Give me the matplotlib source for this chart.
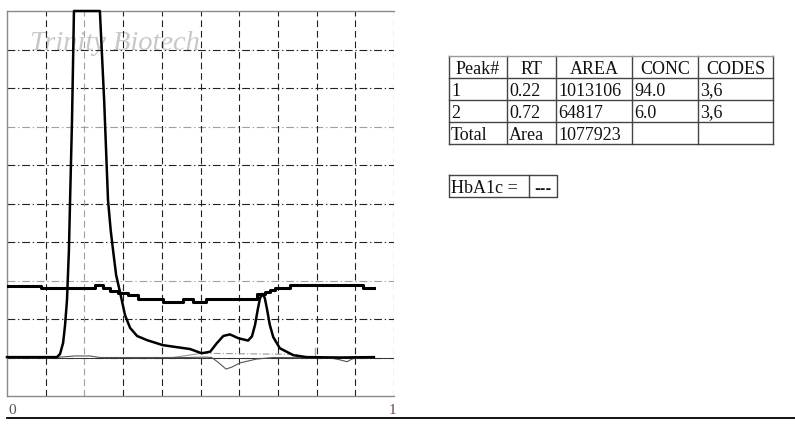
import matplotlib.pyplot as plt
from matplotlib.lines import Line2D

# chromatogram signal (x = fraction of run, y = grid units)
sinal_x = [0, 0.111, 0.129, 0.137, 0.145, 0.150, 0.155, 0.160, 0.163, 0.168, 0.173,
           0.240, 0.251, 0.261, 0.268, 0.274, 0.282, 0.292, 0.305, 0.318, 0.336,
           0.362, 0.403, 0.473, 0.503, 0.525, 0.542, 0.559, 0.576, 0.598, 0.623,
           0.633, 0.641, 0.648, 0.654, 0.660, 0.666, 0.672, 0.679, 0.688, 0.705,
           0.740, 0.774, 0.860, 0.948]
sinal_y = [1.01, 1.01, 1.01, 1.09, 1.38, 1.84, 2.49, 3.79, 5.09, 7.17, 10.0,
           10.0, 7.69, 5.09, 4.3, 3.79, 3.14, 2.70, 2.10, 1.77, 1.56,
           1.45, 1.32, 1.22, 1.11, 1.15, 1.37, 1.56, 1.60, 1.50, 1.44,
           1.55, 1.85, 2.25, 2.55, 2.65, 2.55, 2.25, 1.85, 1.53, 1.24,
           1.06, 1.01, 1.0, 1.01]

# gradient / step trace
degrau_x = [0, 0.088, 0.227, 0.248, 0.266, 0.287, 0.313, 0.338, 0.403, 0.455,
            0.481, 0.514, 0.646, 0.667, 0.680, 0.693, 0.731, 0.920, 0.948]
degrau_y = [2.86, 2.81, 2.88, 2.81, 2.73, 2.68, 2.62, 2.52, 2.44, 2.52,
            2.44, 2.52, 2.65, 2.70, 2.75, 2.81, 2.88, 2.81, 2.81]

# thin derivative-like trace
fino_x = [0, 0.124, 0.176, 0.214, 0.240, 0.470, 0.512, 0.529, 0.545, 0.566, 0.581,
          0.602, 0.645, 0.687, 0.835, 0.860, 0.879, 0.891, 0.912, 0.948]
fino_y = [1.0, 1.0, 1.04, 1.04, 1.0, 1.0, 1.01, 1.0, 0.88, 0.70, 0.75,
          0.86, 0.96, 1.0, 0.99, 0.94, 0.89, 0.96, 1.0, 1.0]

# integration baseline of peak 2
base_x = [0.429, 0.503, 0.757]
base_y = [1.0, 1.11, 1.08]

marcador_x = 0.796
marcador_y = [1.06, 1.25]

cabecalho = ["Peak#", "RT", "AREA", "CONC", "CODES"]
linhas = [["1", "0.22", "1013106", "94.0", "3,6"],
          ["2", "0.72", "64817", "6.0", "3,6"],
          ["Total", "Area", "1077923", "", ""]]
hba1c = ["HbA1c =", "---"]

serif = 'Liberation Serif'

fig = plt.figure(figsize=(7.95, 4.29), dpi=100)
ax = fig.add_axes([7 / 795, 1 - 396 / 429, 387 / 795, 385 / 429])
ax.set_xlim(0, 1)
ax.set_ylim(0, 10)
ax.set_xticks([])
ax.set_yticks([])
for lado in ['top', 'left', 'bottom']:
    ax.spines[lado].set_color('#8a8a8a')
    ax.spines[lado].set_linewidth(1)
ax.spines['right'].set_visible(False)

# grid
for i in range(1, 10):
    cor = '#a0a0a0' if i in (3, 7) else '#222222'
    ax.axhline(i, color=cor, lw=0.8, dashes=(7, 2.5, 1.2, 2.5), zorder=1)
for i in range(1, 11):
    cor = '#a0a0a0' if i == 2 else '#222222'
    ax.axvline(i / 10, color=cor, lw=0.8, dashes=(6, 3.5), zorder=1)
ax.axhline(1.0, color='#333333', lw=0.7, zorder=1)

ax.text(0.06, 9.0, 'Trinity Biotech', family=serif, style='italic', fontsize=20.5,
        color='#c8c8c8', zorder=0)

ax.plot(base_x[:2], base_y[:2], color='#999999', lw=0.8, zorder=2)
ax.plot(base_x[1:], base_y[1:], color='#999999', lw=0.8, dashes=(6, 2, 1, 2), zorder=2)
ax.plot(fino_x, fino_y, color='#555555', lw=0.8, zorder=3)
ax.plot([marcador_x, marcador_x], marcador_y, color='#aaaaaa', lw=1, zorder=3)
ax.step(degrau_x, degrau_y, where='post', color='black', lw=2.2, zorder=4)
ax.plot(sinal_x, sinal_y, color='black', lw=1.8, zorder=5, clip_on=False,
        solid_joinstyle='round')

ax.text(0.003, -0.37, '0', family=serif, fontsize=11, color='#555555', va='center')
ax.text(0.995, -0.37, '1', family=serif, fontsize=11, color='#6a4a4a', va='center', ha='center')

fig.add_artist(Line2D([7 / 795, 1], [1 - 418 / 429] * 2, color='black', lw=1.3))

# table on a pixel overlay
tab = fig.add_axes([0, 0, 1, 1])
tab.set_xlim(0, 795)
tab.set_ylim(429, 0)
tab.axis('off')
colunas = [449, 507, 556, 632, 698, 773]
fileiras = [56, 77.5, 99.5, 121.5, 144]
for xc in colunas:
    tab.plot([xc, xc], [fileiras[0], fileiras[-1]], color='#444444', lw=1)
for i, yr in enumerate(fileiras):
    tab.plot([colunas[0], colunas[-1]], [yr, yr], color='#999999' if i == 0 else '#444444', lw=1)
for j, txt in enumerate(cabecalho):
    tab.text((colunas[j] + colunas[j + 1]) / 2, fileiras[1] - 4, txt, family=serif,
             fontsize=13, ha='center', va='baseline', color='#111111')
for i, linha in enumerate(linhas):
    for j, txt in enumerate(linha):
        tab.text(colunas[j] + 2, fileiras[i + 2] - 4, txt, family=serif,
                 fontsize=13, ha='left', va='baseline', color='#111111')

caixa_x = [449, 529, 557]
caixa_y = [175, 197]
tab.plot([caixa_x[0], caixa_x[-1], caixa_x[-1], caixa_x[0], caixa_x[0]],
         [caixa_y[0], caixa_y[0], caixa_y[1], caixa_y[1], caixa_y[0]], color='#444444', lw=1)
tab.plot([caixa_x[1], caixa_x[1]], caixa_y, color='#444444', lw=1)
tab.text(caixa_x[0] + 2, caixa_y[1] - 4, hba1c[0], family=serif, fontsize=13,
         va='baseline', color='#111111')
tab.text((caixa_x[1] + caixa_x[2]) / 2, caixa_y[1] - 4, hba1c[1], family='DejaVu Sans',
         fontsize=10, fontweight='bold', ha='center', va='baseline', color='#111111')

fig.savefig('out.png', dpi=100)
